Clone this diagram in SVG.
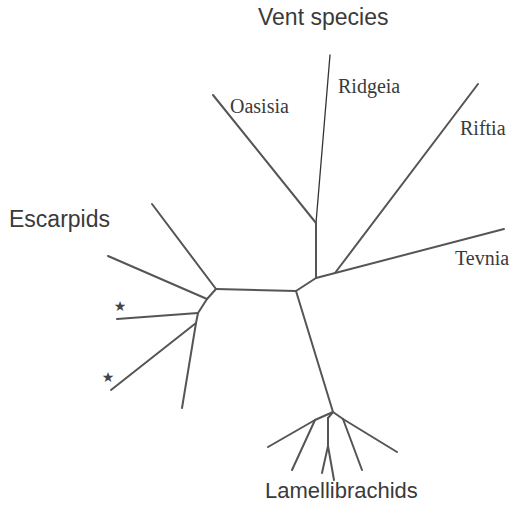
<svg xmlns="http://www.w3.org/2000/svg" width="510" height="515" viewBox="0 0 510 515">
<style>
.br{stroke:#555;stroke-width:2;fill:none;stroke-linecap:round;stroke-linejoin:round}
.thin{stroke:#333;stroke-width:1.3}
.sans{font-family:"Liberation Sans",Arial,sans-serif;fill:#3a3a3a}
.serif{font-family:"Liberation Serif","Times New Roman",serif;font-size:20px;fill:#3a3a3a}
.star{font-family:"DejaVu Sans",sans-serif;font-size:14px;fill:#444}
</style>
<rect width="510" height="515" fill="#fff"/>
<g id="connectors">
  <!-- vent clade -->
  <line class="br thin" x1="330" y1="55" x2="316" y2="223"/>
  <line class="br" x1="213" y1="95" x2="316" y2="223"/>
  <line class="br" x1="316" y1="223" x2="316" y2="278"/>
  <line class="br" x1="316" y1="278" x2="504" y2="229"/>
  <line class="br" x1="335" y1="273" x2="478" y2="84"/>
  <line class="br" x1="316" y1="278" x2="296" y2="291"/>
  <!-- central -->
  <line class="br" x1="296" y1="291" x2="216" y2="289"/>
  <line class="br" x1="296" y1="291" x2="333" y2="412"/>
  <!-- escarpids -->
  <line class="br" x1="216" y1="289" x2="152" y2="204"/>
  <line class="br" x1="216" y1="289" x2="207" y2="299"/>
  <line class="br" x1="207" y1="299" x2="108" y2="256"/>
  <line class="br" x1="207" y1="299" x2="198" y2="313"/>
  <line class="br" x1="198" y1="313" x2="117" y2="319"/>
  <line class="br" x1="198" y1="313" x2="196" y2="323"/>
  <line class="br" x1="196" y1="323" x2="111" y2="390"/>
  <line class="br" x1="196" y1="323" x2="182" y2="408"/>
  <!-- lamellibrachids -->
  <line class="br" x1="333" y1="412" x2="315" y2="420"/>
  <line class="br" x1="315" y1="420" x2="268" y2="447"/>
  <line class="br" x1="315" y1="420" x2="292" y2="470"/>
  <line class="br" x1="333" y1="412" x2="328" y2="418"/>
  <line class="br" x1="328" y1="418" x2="328" y2="446"/>
  <line class="br" x1="328" y1="446" x2="322" y2="473"/>
  <line class="br" x1="328" y1="446" x2="334" y2="480"/>
  <line class="br" x1="333" y1="412" x2="343" y2="419"/>
  <line class="br" x1="343" y1="419" x2="362" y2="470"/>
  <line class="br" x1="343" y1="419" x2="397" y2="452"/>
</g>
<g id="vent-species"><text class="sans" x="258" y="25" font-size="23">Vent species</text></g>
<g id="ridgeia"><text class="serif" x="338" y="93">Ridgeia</text></g>
<g id="oasisia"><text class="serif" x="230" y="113">Oasisia</text></g>
<g id="riftia"><text class="serif" x="460" y="135">Riftia</text></g>
<g id="tevnia"><text class="serif" x="455" y="265">Tevnia</text></g>
<g id="escarpids"><text class="sans" x="9" y="227" font-size="23">Escarpids</text></g>
<g id="star1"><text class="star" x="120" y="311" text-anchor="middle">★</text></g>
<g id="star2"><text class="star" x="108" y="382" text-anchor="middle">★</text></g>
<g id="lamellibrachids"><text class="sans" x="265" y="498" font-size="22">Lamellibrachids</text></g>
</svg>
